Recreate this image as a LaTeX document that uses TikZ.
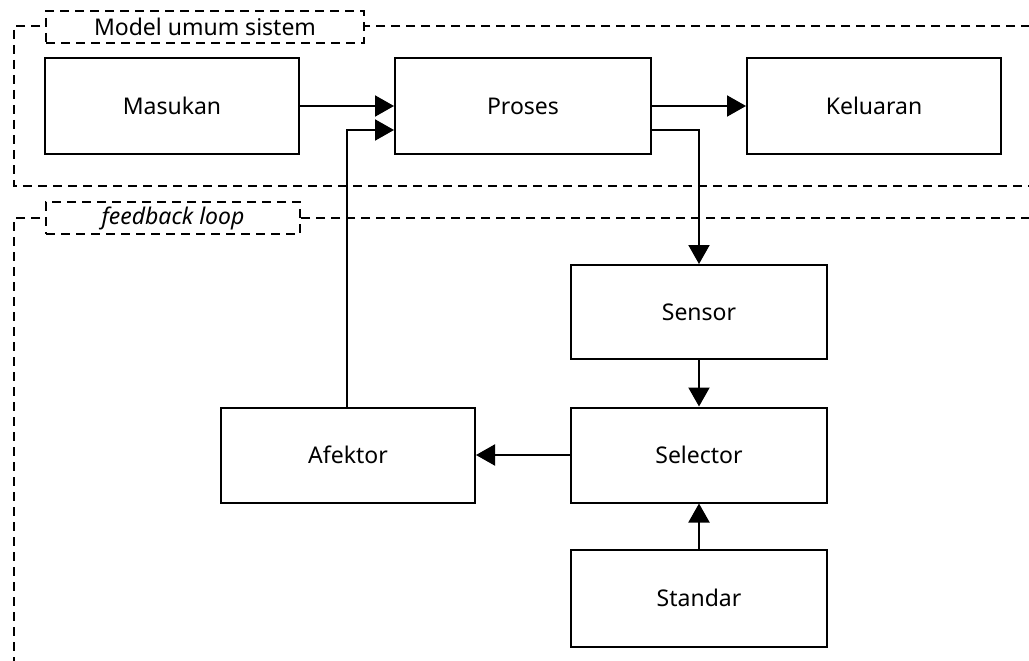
\documentclass[tikz,border=0pt]{standalone}
\usepackage{fontspec}
\setmainfont{Noto Sans}
\usetikzlibrary{arrows.meta}
\begin{document}
\begin{tikzpicture}[x=1pt,y=-1pt,
  blk/.style={draw,line width=2pt,fill=white,inner sep=0pt},
  frm/.style={draw,line width=1.8pt,dash pattern=on 9pt off 6pt},
  lbl/.style={draw,line width=1.8pt,dash pattern=on 9pt off 6pt,fill=white,inner sep=0pt},
  conn/.style={line width=2pt,-{Triangle[length=19pt,width=21pt]}},
  every node/.style={font=\fontsize{23}{26}\selectfont}]
\useasboundingbox (0,0) rectangle (1029,661);
\clip (0,0) rectangle (1029,661);
\fill[white] (0,0) rectangle (1029,661);
% frames
\draw[frm] (1060,26) -- (14,26) -- (14,186) -- (1060,186);
\draw[frm] (1060,218) -- (14,218) -- (14,700);
\node[lbl,minimum width=318pt,minimum height=32pt] (lab1) at (205,27) {Model umum sistem};
\node[lbl,minimum width=254pt,minimum height=32pt] (lab2) at (173,218) {\itshape feedback loop};
% blocks
\node[blk,minimum width=254pt,minimum height=96pt] (mas) at (172,106) {Masukan};
\node[blk,minimum width=256pt,minimum height=96pt] (pro) at (523,106) {Proses};
\node[blk,minimum width=254pt,minimum height=96pt] (kel) at (874,106) {Keluaran};
\node[blk,minimum width=256pt,minimum height=94pt] (sen) at (699,312) {Sensor};
\node[blk,minimum width=256pt,minimum height=95pt] (sel) at (699,455) {Selector};
\node[blk,minimum width=254pt,minimum height=95pt] (afe) at (348,455) {Afektor};
\node[blk,minimum width=256pt,minimum height=97pt] (sta) at (699,598) {Standar};
% connectors
\draw[conn] (mas.east) -- (pro.west);
\draw[conn] (pro.east) -- (kel.west);
\draw[conn] (pro.east |- 0,130) -| (sen.north);
\draw[conn] (afe.north -| 347,0) |- (pro.west |- 0,130);
\draw[conn] (sen.south) -- (sel.north);
\draw[conn] (sel.west) -- (afe.east);
\draw[conn] (sta.north) -- (sel.south);
\end{tikzpicture}
\end{document}
